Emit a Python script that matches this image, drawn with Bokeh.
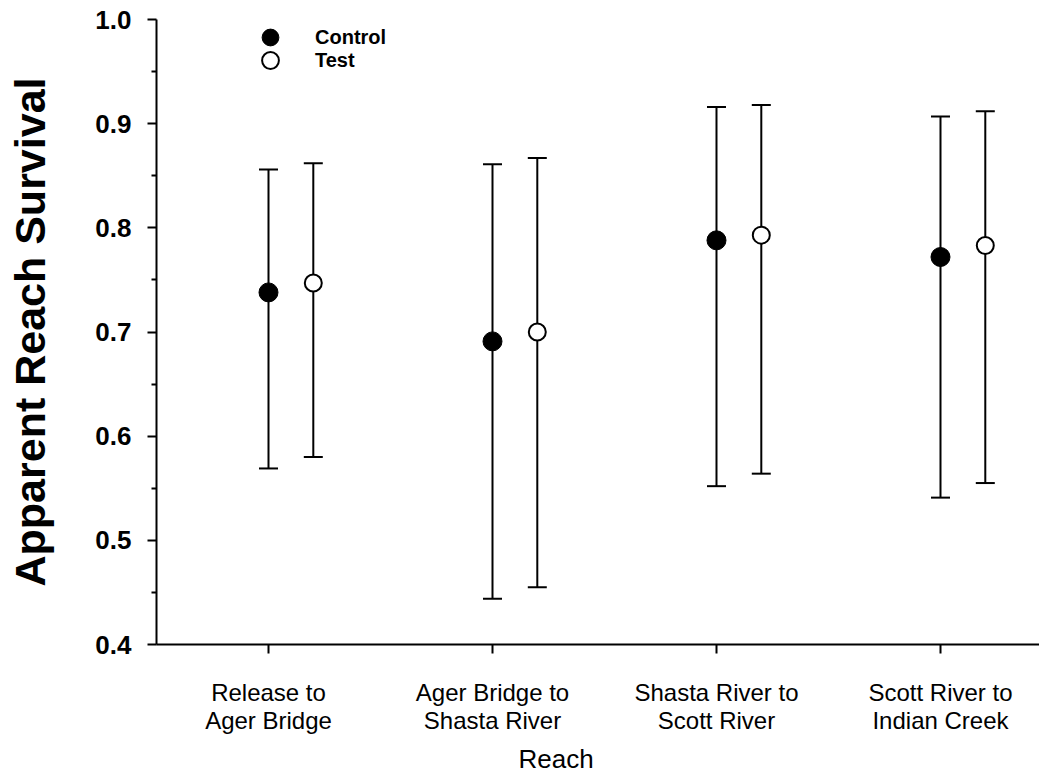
from bokeh.plotting import figure
from bokeh.models import (Range1d, FixedTicker, ColumnDataSource, Whisker, TeeHead,
                          Legend, LegendItem, Title)
from bokeh.embed import file_html
from bokeh.resources import INLINE

# ---- data ----
reaches = ["Release to\nAger Bridge", "Ager Bridge to\nShasta River",
           "Shasta River to\nScott River", "Scott River to\nIndian Creek"]
x_pos = [1, 2, 3, 4]
control = [0.738, 0.691, 0.788, 0.772]
control_lo = [0.569, 0.444, 0.552, 0.541]
control_hi = [0.856, 0.861, 0.916, 0.907]
test = [0.747, 0.700, 0.793, 0.783]
test_lo = [0.580, 0.455, 0.564, 0.555]
test_hi = [0.862, 0.867, 0.918, 0.912]
test_offset = 0.2
y_ticks = [0.4, 0.5, 0.6, 0.7, 0.8, 0.9, 1.0]
y_tick_labels = ["0.4", "0.5", "0.6", "0.7", "0.8", "0.9", "1.0"]
y_minor = [0.45, 0.55, 0.65, 0.75, 0.85, 0.95]

FONT = "Liberation Sans"

p = figure(width=1039, height=780, output_backend="svg", toolbar_location=None,
           x_range=Range1d(0.5, 4.442), y_range=Range1d(0.4, 1.0),
           min_border_left=156, min_border_right=0, min_border_top=19,
           min_border_bottom=136)
p.outline_line_color = None
p.grid.visible = False
p.background_fill_color = "white"
p.border_fill_color = "white"

src_c = ColumnDataSource(dict(x=x_pos, y=control, lower=control_lo, upper=control_hi))
src_t = ColumnDataSource(dict(x=[x + test_offset for x in x_pos], y=test,
                              lower=test_lo, upper=test_hi))

for src in (src_c, src_t):
    w = Whisker(source=src, base="x", lower="lower", upper="upper", dimension="height",
                line_color="black", line_width=2,
                upper_head=TeeHead(size=19, line_width=2, line_color="black"),
                lower_head=TeeHead(size=19, line_width=2, line_color="black"))
    p.add_layout(w)

rc = p.scatter("x", "y", source=src_c, size=19, marker="circle",
               fill_color="black", line_color="black", line_width=1)
rt = p.scatter("x", "y", source=src_t, size=17, marker="circle",
               fill_color="white", line_color="black", line_width=2)

for label, rend, loc in (("Control", rc, (93, 586)), ("Test", rt, (93, 563))):
    leg = Legend(items=[LegendItem(label=label, renderers=[rend])], location=loc)
    leg.glyph_width = 42
    leg.glyph_height = 42
    leg.label_height = 20
    leg.label_standoff = 24
    leg.padding = 0
    leg.margin = 0
    leg.spacing = 0
    leg.border_line_color = None
    leg.background_fill_alpha = 0
    leg.label_text_font = FONT
    leg.label_text_font_style = "bold"
    leg.label_text_font_size = "20px"
    leg.label_text_line_height = 1.0
    leg.label_text_color = "black"
    p.add_layout(leg)

# x axis
xa = p.xaxis[0]
xa.ticker = FixedTicker(ticks=x_pos)
xa.major_label_overrides = {x: lab for x, lab in zip(x_pos, reaches)}
xa.axis_line_width = 2
xa.axis_line_color = "black"
xa.major_tick_line_width = 2
xa.major_tick_out = 9
xa.major_tick_in = 0
xa.minor_tick_out = 0
xa.minor_tick_in = 0
xa.major_label_text_font = FONT
xa.major_label_text_font_size = "24px"
xa.major_label_text_line_height = 1.05
xa.major_label_text_color = "black"
xa.major_label_standoff = 25

# y axis
ya = p.yaxis[0]
ya.ticker = FixedTicker(ticks=y_ticks, minor_ticks=y_minor)
ya.major_label_overrides = dict(zip(y_ticks, y_tick_labels))
ya.axis_line_width = 2
ya.axis_line_color = "black"
ya.major_tick_line_width = 2
ya.minor_tick_line_width = 2
ya.major_tick_out = 9
ya.major_tick_in = 0
ya.minor_tick_out = 5
ya.minor_tick_in = 0
ya.major_label_text_font = FONT
ya.major_label_text_font_style = "bold"
ya.major_label_text_font_size = "26px"
ya.major_label_text_color = "black"
ya.major_label_standoff = 16
ya.axis_label = "Apparent Reach Survival"
ya.axis_label_text_font = FONT
ya.axis_label_text_font_style = "bold"
ya.axis_label_text_font_size = "43px"
ya.axis_label_text_color = "black"
ya.axis_label_standoff = 38

t = Title(text="Reach", align="left", offset=362, text_font=FONT,
          text_font_size="26px", text_font_style="normal", text_color="black",
          standoff=10)
p.add_layout(t, "below")

open("out.html", "w").write(file_html(p, INLINE))
